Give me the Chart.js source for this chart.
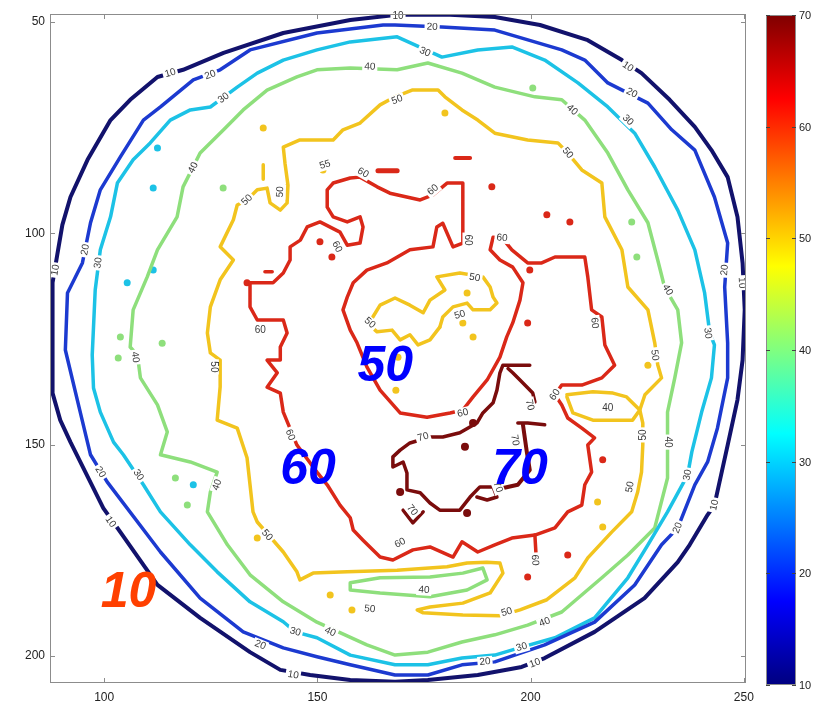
<!DOCTYPE html>
<html>
<head>
<meta charset="utf-8">
<script src="https://cdn.jsdelivr.net/npm/chart.js@4/dist/chart.umd.min.js"></script>
<style>
  html, body { margin: 0; padding: 0; background: #fff; }
  #myChart { display: block; }
</style>
</head>
<body>
<canvas id="myChart" width="814" height="704"></canvas>
<script>
// axis ticks
const xTicks = [100, 150, 200, 250];
const yTicks = [50, 100, 150, 200];
const colorbarTicks = [10, 20, 30, 40, 50, 60, 70];

// contour lines, [x, y]
const c10 = [[168.7,48.3],[181.1,48.3],[191.6,48.8],[202.2,50.7],[213.4,54.3],[221.4,59.0],[226.0,62.1],[232.6,68.4],[238.5,74.8],[242.4,80.3],[246.2,86.7],[248.5,96.1],[249.7,107.0],[250.2,118.1],[249.7,130.0],[248.5,139.4],[246.2,150.1],[243.1,164.3],[241.5,166.6],[237.3,173.7],[234.5,177.8],[226.7,186.3],[220.9,190.3],[215.0,194.3],[203.3,200.5],[197.9,202.6],[187.6,204.5],[175.9,205.7],[168.2,206.1],[157.7,205.7],[148.3,204.5],[141.3,203.3],[134.2,199.1],[122.5,191.0],[112.5,183.2],[103.8,170.7],[99.8,165.0],[92.1,149.4],[89.7,144.2],[87.9,137.8],[87.9,125.2],[87.9,111.7],[89.0,105.1],[90.2,98.0],[92.1,91.4],[96.1,82.6],[101.5,73.2],[106.1,68.4],[112.5,63.0],[118.5,61.3],[128.0,57.3],[142.0,52.6],[157.7,49.5],[168.7,48.3]];

const c20 = [[168.2,50.7],[179.2,51.2],[191.6,51.9],[207.3,56.6],[212.7,59.0],[218.1,64.4],[227.5,69.2],[233.1,75.5],[238.5,80.3],[243.1,91.4],[246.2,102.3],[245.5,112.7],[246.2,126.0],[246.2,134.2],[243.8,146.1],[241.5,154.1],[238.5,159.5],[234.5,169.7],[230.7,173.7],[224.4,183.2],[215.0,192.0],[203.3,197.4],[191.6,201.4],[183.9,202.1],[175.9,204.5],[168.2,204.5],[157.7,202.1],[149.9,200.2],[142.0,198.1],[132.6,194.3],[122.5,186.3],[113.2,175.4],[100.7,158.8],[96.8,152.4],[93.7,139.4],[90.9,127.6],[91.4,114.1],[94.9,107.0],[96.8,97.5],[99.1,89.7],[103.8,81.9],[109.2,73.2],[113.2,70.1],[120.9,63.7],[127.2,61.3],[134.2,56.6],[149.9,52.6],[165.4,50.7],[168.2,50.7]];

const c30 = [[168.7,53.5],[179.2,58.3],[187.6,56.6],[195.6,55.9],[203.3,59.0],[211.1,64.4],[218.1,70.1],[224.4,76.3],[229.1,84.3],[234.5,94.5],[238.5,103.9],[240.8,114.1],[242.0,123.6],[243.1,126.4],[242.4,134.2],[240.1,142.3],[237.8,151.7],[236.8,157.2],[232.1,165.9],[227.5,173.7],[222.8,181.5],[215.0,191.0],[205.7,195.7],[197.9,197.9],[191.6,199.8],[183.9,200.5],[175.9,202.1],[168.2,202.1],[157.7,199.8],[149.9,195.7],[144.8,194.3],[142.0,191.9],[134.2,187.2],[126.5,180.1],[120.2,173.7],[113.2,165.9],[109.2,159.5],[104.5,152.4],[102.2,149.4],[99.1,142.3],[97.5,136.6],[97.2,128.8],[97.9,113.4],[99.1,103.9],[101.5,96.1],[103.1,88.1],[106.8,82.6],[110.8,78.6],[115.5,73.2],[120.2,70.8],[124.9,70.1],[131.2,65.4],[135.9,62.1],[142.0,59.0],[149.9,56.6],[157.7,54.7],[168.7,53.5]];

const c40 = [[168.7,61.3],[175.9,59.7],[183.9,62.1],[191.6,65.4],[201.0,67.7],[207.3,68.4],[212.7,73.2],[218.1,81.0],[222.8,89.7],[227.5,97.5],[229.8,106.3],[231.4,112.7],[234.5,118.1],[235.4,125.9],[233.8,134.2],[232.1,142.3],[232.1,157.9],[229.1,169.7],[222.8,176.1],[216.7,181.5],[207.3,189.6],[199.3,192.7],[191.6,195.0],[183.9,196.7],[175.9,199.1],[168.2,199.8],[161.6,197.4],[149.9,192.0],[142.0,187.2],[134.2,180.8],[128.9,173.7],[124.2,165.9],[124.9,161.2],[126.5,156.5],[120.2,154.1],[113.2,152.4],[114.8,147.0],[112.5,140.6],[108.5,134.2],[107.8,128.8],[106.1,126.9],[106.8,118.1],[110.1,110.3],[112.5,103.9],[117.1,96.1],[118.5,89.0],[122.5,81.0],[128.0,75.5],[132.6,70.8],[138.2,66.1],[145.2,63.0],[149.9,61.3],[157.7,60.9],[168.7,61.3]];
const c40Loop = [[157.7,182.7],[164.7,181.5],[176.4,181.3],[184.1,180.4],[188.8,179.2],[189.8,182.0],[185.1,184.4],[176.4,186.0],[164.7,185.1],[157.7,184.4],[157.7,182.7]];

const c50 = [[160.0,73.9],[156.0,75.5],[153.7,77.9],[145.9,77.9],[142.0,79.6],[142.4,83.4],[143.1,88.6],[142.9,92.8],[141.3,94.5],[138.9,92.8],[138.2,89.3],[135.9,89.7],[133.5,92.1],[131.2,93.3],[130.3,96.8],[127.2,103.2],[130.3,106.3],[127.2,111.0],[124.9,117.4],[124.2,123.6],[124.9,128.3],[127.2,130.0],[127.2,136.3],[126.5,144.2],[131.2,146.1],[133.5,153.1],[134.2,159.5],[134.9,165.9],[135.9,168.3],[142.0,175.4],[145.2,180.1],[145.9,182.0],[149.0,180.4],[157.0,180.1],[168.7,179.7],[180.4,178.9],[185.1,178.0],[189.7,177.8],[192.8,178.0],[193.5,180.4],[190.5,185.1],[184.1,187.5],[176.4,188.4],[173.4,189.1],[174.8,189.8],[184.1,190.3],[192.8,190.5],[197.5,189.1],[203.8,186.7],[210.4,181.5],[213.4,176.8],[219.0,170.7],[223.7,165.9],[225.1,161.2],[226.0,156.5],[226.3,150.1],[226.3,144.9],[225.6,141.8],[226.8,138.2],[230.7,134.2],[229.8,131.1],[229.1,125.9],[227.5,118.1],[222.8,112.7],[221.4,103.9],[217.4,96.1],[216.7,88.1],[212.0,85.0],[208.7,81.0],[206.4,78.6],[199.3,77.9],[191.6,76.3],[187.6,73.2],[183.9,70.8],[179.9,67.7],[178.3,66.1],[172.2,66.1],[168.2,67.7],[164.7,69.6],[160.0,73.9]];
const c50Loop = [[208.5,138.7],[209.9,142.5],[214.6,144.2],[223.9,144.2],[225.6,141.8],[222.5,138.7],[219.3,137.8],[214.6,137.5],[208.5,138.2]];
const c50InnerA = [[163.0,119.8],[164.7,117.0],[168.2,115.3],[171.7,117.0],[174.8,118.8],[176.4,115.8],[179.9,113.4],[178.0,110.3],[183.4,109.4],[188.8,110.3],[190.5,112.7],[191.2,115.1],[192.1,116.5],[190.5,118.1],[186.5,118.1],[185.1,116.5],[181.8,117.4],[179.4,119.8],[178.7,122.2]];
const c50InnerB = [[161.6,121.2],[164.0,123.3],[167.5,122.9],[169.4,125.2],[171.7,124.0],[173.6,126.4],[176.4,125.2],[178.7,122.2]];
const c50Hook = [[137.3,83.8],[137.3,87.2]];

const c60 = [[153.7,88.1],[157.7,86.9],[160.0,86.7],[164.0,89.0],[167.0,90.5],[174.1,92.1],[177.1,90.9],[180.4,88.1],[184.1,88.1],[184.1,102.3],[181.8,103.2],[179.4,97.6],[178.0,98.5],[177.1,103.2],[171.7,103.9],[166.3,107.0],[161.6,108.7],[158.4,111.7],[157.0,115.1],[156.0,118.1],[157.7,122.9],[159.3,125.9],[161.6,131.6],[164.7,137.1],[169.4,142.5],[175.7,143.5],[181.1,142.5],[184.1,141.8],[186.5,138.7],[189.8,134.7],[192.8,129.3],[194.4,124.5],[195.8,121.2],[197.5,115.8],[198.2,111.7],[195.8,108.0],[192.8,106.3],[190.5,103.9],[191.2,100.9],[193.3,101.1],[195.6,103.9],[199.3,107.0],[202.6,107.0],[205.7,105.6],[212.7,105.6],[213.4,110.3],[214.3,118.1],[216.7,119.8],[217.4,126.4],[219.7,131.2],[216.7,134.2],[212.0,135.9],[207.3,135.9],[205.7,138.2],[207.3,140.6],[208.7,143.7],[212.0,146.1],[215.0,148.4],[213.4,150.1],[214.3,156.5],[212.7,159.5],[212.0,164.3],[208.7,165.9],[205.7,169.7],[201.0,171.4],[195.6,172.1],[191.6,173.7],[187.6,175.4],[183.9,173.0],[181.8,176.6],[176.4,174.2],[172.4,174.9],[167.7,177.3],[164.7,176.6],[160.7,172.6],[158.4,170.2],[157.7,167.3],[155.3,164.3],[152.3,159.5],[149.9,156.5],[145.2,150.1],[142.0,142.3],[141.3,137.8],[138.2,136.4],[140.6,133.0],[138.2,130.0],[141.3,130.0],[141.3,126.9],[142.9,123.6],[142.0,120.5],[138.9,120.5],[135.9,120.5],[134.2,117.4],[134.2,111.7],[139.6,111.7],[142.0,109.4],[143.6,106.3],[143.6,103.2],[146.0,101.6],[147.6,98.5],[150.6,97.3],[155.3,99.7],[157.0,102.8],[160.0,102.3],[160.7,98.5],[160.0,96.1],[157.0,97.3],[153.7,96.1],[152.3,93.8],[152.3,89.7],[153.7,88.1]];
const c60BarA = [[164.2,85.2],[168.7,85.2]];
const c60BarB = [[182.3,82.2],[185.8,82.2]];
const c60BarC = [[137.7,109.1],[139.4,109.1]];
const c60BarD = [[201.0,171.4],[201.3,176.6]];

const c70Main = [[199.8,131.2],[193.5,131.2],[192.8,133.0],[192.1,137.1],[191.2,140.1],[188.8,142.5],[187.4,144.9],[183.4,147.2],[179.4,148.2],[176.4,148.2],[171.7,149.6],[169.4,151.3],[167.7,152.9],[167.7,155.3],[170.1,154.1],[171.0,156.7],[171.0,160.7],[174.1,161.4],[176.4,163.8],[178.7,165.5],[183.4,165.5],[185.8,162.4],[188.1,160.0],[191.2,160.0],[192.1,162.4],[189.8,163.1],[187.4,162.4]];
const c70Right = [[194.7,132.0],[195.8,133.0],[197.5,134.7],[200.5,137.8],[201.0,139.9]];
const c70T = [[197.0,144.9],[199.3,144.9],[203.3,145.3]];
const c70Stem = [[198.2,145.3],[199.1,151.7],[199.8,156.0],[197.0,159.5],[193.3,160.3]];
const c70Arc = [[170.1,165.5],[172.4,168.5],[174.8,165.9]];

// isolated spots
const dots30 = [[111.5,89.3],[111.5,108.7],[105.4,111.7],[112.5,79.8],[120.9,159.5]];
const dots40 = [[127.9,89.3],[103.8,124.5],[103.3,129.5],[113.6,126.0],[116.7,157.9],[119.5,164.3],[223.7,97.3],[224.9,105.6],[200.5,65.6],[218.1,141.3]];
const dots50 = [[137.3,75.1],[151.3,85.0],[179.9,71.5],[227.5,131.2],[215.7,163.6],[216.9,169.5],[135.9,172.1],[153.0,185.6],[158.1,189.1],[168.4,137.1],[168.9,129.3],[184.1,121.2],[185.1,114.1],[186.5,124.5]];
const dots60 = [[190.9,89.0],[203.8,95.6],[209.2,97.3],[199.3,121.2],[216.9,153.6],[208.7,176.1],[199.3,181.3],[150.6,102.0],[153.4,105.6],[133.5,111.7],[199.8,108.7]];
const dots70 = [[169.4,161.2],[184.6,150.5],[185.1,166.2],[186.5,144.9]];

// inline contour labels
const labelX = [168.9,115.5,222.8,249.5,243.1,201.0,101.5,144.3,88.6, 124.9,95.6,176.9,223.7,245.5,234.5,99.1,136.6,189.3, 128.0,98.6,175.2,222.8,241.5,236.8,197.9,108.0,144.8, 162.3,120.9,209.7,232.1,232.1,203.3,153.0,126.5,107.3,175.0,218.1, 168.7,133.5,208.7,125.6,138.2,194.4,223.3,226.3,229.1,141.3,162.3,183.4,186.9,162.3,151.8, 160.7,177.1,185.3,193.3,215.0,205.7,184.1,143.6,136.6,154.6,169.4,201.0, 199.8,196.3,174.8,172.2,192.3];
const labelY = [48.6,62.1,60.6,111.7,164.3,201.7,168.3,204.5,108.7, 62.5,103.9,51.2,66.8,108.7,169.7,156.5,197.4,201.4, 68.0,107.0,57.1,73.2,123.6,157.2,197.9,157.2,194.3, 60.6,84.5,70.8,113.4,149.4,192.0,194.3,159.5,129.3,184.4,141.3, 68.4,92.1,81.0,131.6,171.4,189.6,160.0,147.7,128.8,90.2,121.2,119.3,110.5,188.9,83.8, 85.7,89.7,101.6,101.1,121.2,138.2,142.5,147.7,122.9,103.2,173.3,177.3, 140.6,148.9,148.2,165.5,160.0];
const labelText = ['10','10','10','10','10','10','10','10','10', '20','20','20','20','20','20','20','20','20', '30','30','30','30','30','30','30','30','30', '40','40','40','40','40','40','40','40','40','40','40', '50','50','50','50','50','50','50','50','50','50','50','50','50','50','55', '60','60','60','60','60','60','60','60','60','60','60','60', '70','70','70','70','70'];

// large annotations on the figure
const noteText = ['50', '60', '70', '10'];
const noteX = [165.9, 147.8, 197.5, 105.7];
const noteY = [131.6, 156.0, 156.0, 185.1];

const levelColors = {
  10: '#12126c', 20: '#1c3ad0', 30: '#1cc2e6', 40: '#8edf7c',
  50: '#f2c41e', 60: '#da2818', 70: '#7a0c0c'
};

function toPts(arr) {
  return arr.map(p => ({ x: p[0], y: p[1] }));
}
function line(arr, level, width) {
  return {
    data: toPts(arr), showLine: true, pointRadius: 0, tension: 0,
    borderColor: levelColors[level], borderWidth: width || 3.5,
    borderJoinStyle: 'round', borderCapStyle: 'round', fill: false
  };
}
function spots(arr, level, r) {
  return {
    data: toPts(arr), showLine: false, pointRadius: r || 3.5,
    pointBorderWidth: 0, backgroundColor: levelColors[level], borderColor: levelColors[level]
  };
}

function jet(t) {
  const c = v => Math.round(255 * Math.max(0, Math.min(1, v)));
  return 'rgb(' + c(1.5 - Math.abs(4 * t - 3)) + ',' + c(1.5 - Math.abs(4 * t - 2)) + ',' + c(1.5 - Math.abs(4 * t - 1)) + ')';
}

function segDist(px, py, s) {
  const dx = s[2] - s[0], dy = s[3] - s[1];
  const l2 = dx * dx + dy * dy || 1;
  let t = ((px - s[0]) * dx + (py - s[1]) * dy) / l2;
  t = Math.max(0, Math.min(1, t));
  const qx = s[0] + t * dx - px, qy = s[1] + t * dy - py;
  return Math.sqrt(qx * qx + qy * qy);
}

// box, inward ticks, colorbar, contour labels, annotations
const decorations = {
  id: 'decorations',
  afterDatasetsDraw(chart) {
    const { ctx } = chart;
    const xs = chart.scales.x, ys = chart.scales.y;

    // contour labels sit in a white gap along the line
    const segs = [];
    chart.data.datasets.forEach(ds => {
      if (!ds.showLine) return;
      for (let i = 1; i < ds.data.length; i++) {
        const a = ds.data[i - 1], b = ds.data[i];
        segs.push([xs.getPixelForValue(a.x), ys.getPixelForValue(a.y), xs.getPixelForValue(b.x), ys.getPixelForValue(b.y)]);
      }
    });
    ctx.save();
    ctx.font = '10px "Liberation Sans", Arial, sans-serif';
    ctx.textAlign = 'center';
    ctx.textBaseline = 'middle';
    labelX.forEach((lx, i) => {
      const px = xs.getPixelForValue(lx), py = ys.getPixelForValue(labelY[i]);
      let best = null, bd = Infinity;
      segs.forEach(s => { const d = segDist(px, py, s); if (d < bd) { bd = d; best = s; } });
      let ang = best ? Math.atan2(best[3] - best[1], best[2] - best[0]) : 0;
      if (ang > Math.PI / 2) ang -= Math.PI;
      if (ang < -Math.PI / 2) ang += Math.PI;
      const w = ctx.measureText(labelText[i]).width;
      ctx.save();
      ctx.translate(px, py);
      ctx.rotate(ang);
      ctx.fillStyle = '#ffffff';
      ctx.fillRect(-w / 2 - 2, -5.5, w + 4, 11);
      ctx.fillStyle = '#3a3a3a';
      ctx.fillText(labelText[i], 0, 0);
      ctx.restore();
    });
    ctx.restore();

    // big annotations
    ctx.save();
    ctx.font = 'italic bold 50px "Liberation Sans", Arial, sans-serif';
    ctx.textAlign = 'center';
    ctx.textBaseline = 'middle';
    noteText.forEach((t, i) => {
      ctx.fillStyle = t === '10' ? '#ff4000' : '#0000ff';
      ctx.fillText(t, xs.getPixelForValue(noteX[i]), ys.getPixelForValue(noteY[i]));
    });
    ctx.restore();
  },
  afterDraw(chart) {
    const { ctx, chartArea } = chart;
    const xs = chart.scales.x, ys = chart.scales.y;
    const L = chartArea.left, R = chartArea.right, T = chartArea.top, B = chartArea.bottom;
    ctx.save();
    ctx.strokeStyle = '#8c8c8c';
    ctx.lineWidth = 1;
    ctx.strokeRect(L + 0.5, T + 0.5, R - L - 1, B - T - 1);
    ctx.beginPath();
    xTicks.forEach(v => {
      const p = Math.round(xs.getPixelForValue(v)) + 0.5;
      ctx.moveTo(p, B); ctx.lineTo(p, B - 5);
      ctx.moveTo(p, T); ctx.lineTo(p, T + 5);
    });
    yTicks.forEach(v => {
      const p = Math.round(ys.getPixelForValue(v)) + 0.5;
      ctx.moveTo(L, p); ctx.lineTo(L + 5, p);
      ctx.moveTo(R, p); ctx.lineTo(R - 5, p);
    });
    ctx.stroke();

    // colorbar
    const cbL = R + 20, cbW = 30, cbT = T + 1, cbB = B + 2;
    const cMin = colorbarTicks[0], cMax = colorbarTicks[colorbarTicks.length - 1];
    const g = ctx.createLinearGradient(0, cbB, 0, cbT);
    for (let i = 0; i <= 64; i++) g.addColorStop(i / 64, jet(i / 64));
    ctx.fillStyle = g;
    ctx.fillRect(cbL, cbT, cbW, cbB - cbT);
    ctx.strokeStyle = '#8c8c8c';
    ctx.strokeRect(cbL + 0.5, cbT + 0.5, cbW - 1, cbB - cbT - 1);
    ctx.font = '11px "Liberation Sans", Arial, sans-serif';
    ctx.fillStyle = '#222';
    ctx.textAlign = 'left';
    ctx.textBaseline = 'middle';
    ctx.strokeStyle = '#444';
    colorbarTicks.forEach(v => {
      const y = Math.round(cbB - (v - cMin) / (cMax - cMin) * (cbB - cbT)) + 0.5;
      ctx.beginPath();
      ctx.moveTo(cbL, y); ctx.lineTo(cbL + 4, y);
      ctx.moveTo(cbL + cbW, y); ctx.lineTo(cbL + cbW - 4, y);
      ctx.stroke();
      ctx.fillText(String(v), cbL + cbW + 3, y);
    });
    ctx.restore();
  }
};

const datasets = [
  line(c10, 10, 4), line(c20, 20), line(c30, 30), line(c40, 40), line(c40Loop, 40),
  line(c50, 50), line(c50Loop, 50), line(c50InnerA, 50), line(c50InnerB, 50), line(c50Hook, 50),
  line(c60, 60), line(c60BarA, 60, 5), line(c60BarB, 60, 4), line(c60BarC, 60), line(c60BarD, 60),
  line(c70Main, 70, 3.5), line(c70Right, 70, 3.5), line(c70T, 70, 3.5), line(c70Stem, 70, 4), line(c70Arc, 70, 3.5),
  spots(dots30, 30), spots(dots40, 40), spots(dots50, 50), spots(dots60, 60), spots(dots70, 70, 4)
];

const ctx = document.getElementById('myChart');
const chart = new Chart(ctx, {
  type: 'scatter',
  data: { datasets: datasets },
  options: {
    responsive: false,
    animation: false,
    devicePixelRatio: 1,
    layout: { padding: { top: 14, right: 68, left: 0, bottom: 0 } },
    plugins: { legend: { display: false }, tooltip: { enabled: false } },
    scales: {
      x: {
        type: 'linear', min: 87.3, max: 250.5,
        grid: { display: false, drawTicks: false },
        border: { display: false },
        afterBuildTicks: s => { s.ticks = xTicks.map(v => ({ value: v })); },
        afterFit: s => { s.height = 21; },
        ticks: { padding: 7, color: '#222', font: { family: '"Liberation Sans", Arial, sans-serif', size: 12 } }
      },
      y: {
        type: 'linear', reverse: true, min: 48.1, max: 206.4,
        grid: { display: false, drawTicks: false },
        border: { display: false },
        afterBuildTicks: s => { s.ticks = yTicks.map(v => ({ value: v })); },
        afterFit: s => { s.width = 50; },
        ticks: { padding: 5, color: '#222', font: { family: '"Liberation Sans", Arial, sans-serif', size: 12 } }
      }
    }
  },
  plugins: [decorations]
});
</script>
</body>
</html>
